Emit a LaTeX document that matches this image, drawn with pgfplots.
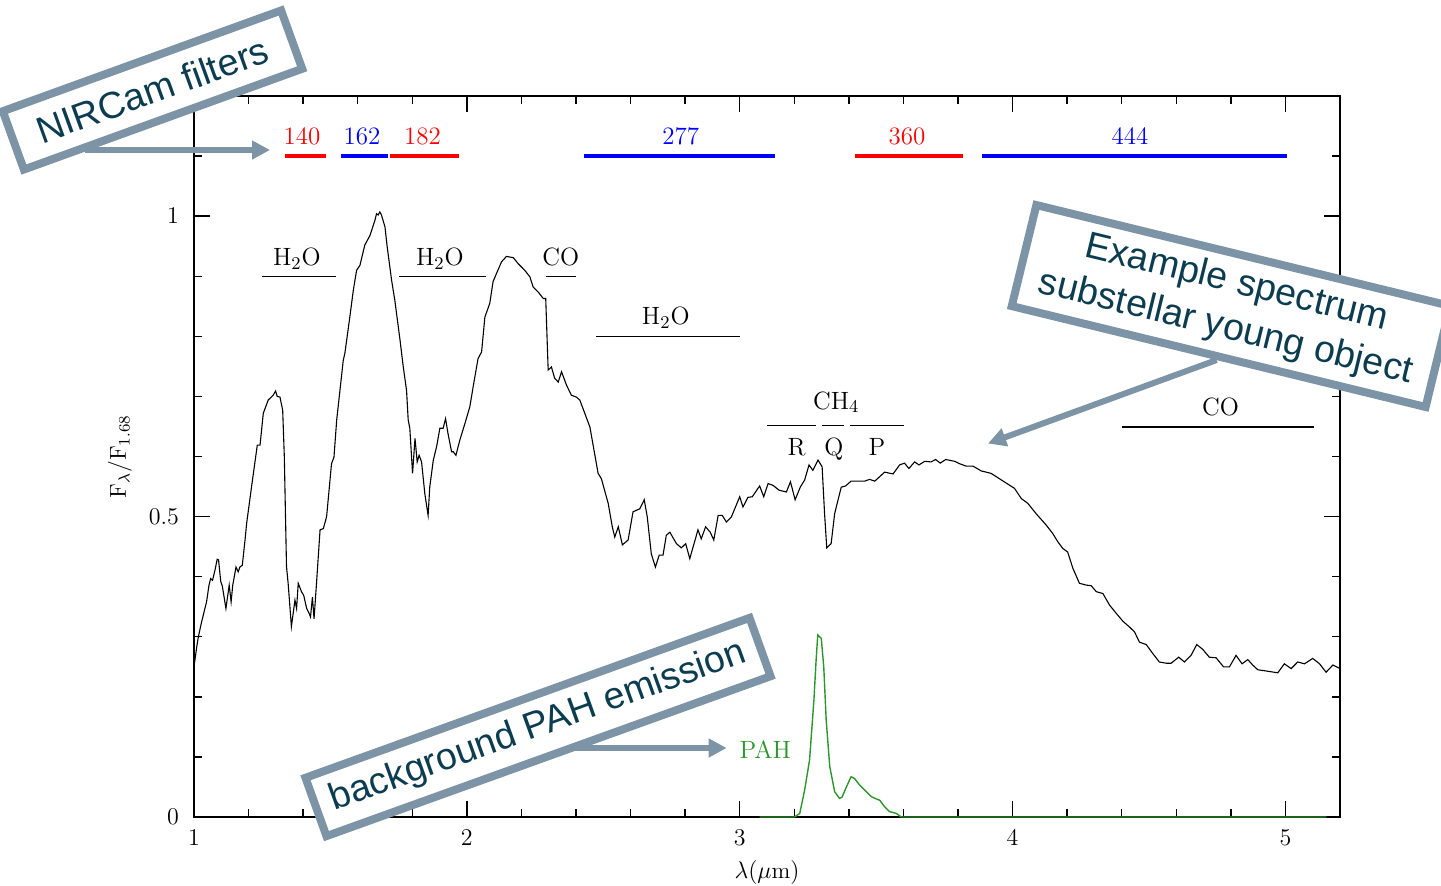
\documentclass[border=0pt]{standalone}
\usepackage{fontspec}
\usepackage{pgfplots}
\pgfplotsset{compat=1.18}
\usetikzlibrary{arrows.meta}
\newfontfamily\callfont{Liberation Sans}
\definecolor{boxc}{RGB}{125,148,166}
\definecolor{txtc}{RGB}{11,60,80}
\definecolor{pahg}{RGB}{44,150,44}
\definecolor{fred}{RGB}{255,0,0}
\definecolor{fblue}{RGB}{0,0,255}
\newcommand{\lab}{\fontsize{12.5}{14}\selectfont}
\newcommand{\callsize}{\callfont\fontsize{18.75}{23}\selectfont}

\pgfplotstableread{
x y
1.000 0.250
1.010 0.283
1.016 0.300
1.028 0.325
1.040 0.347
1.046 0.358
1.055 0.386
1.061 0.397
1.068 0.394
1.077 0.411
1.085 0.429
1.090 0.428
1.098 0.392
1.104 0.384
1.117 0.347
1.129 0.386
1.136 0.358
1.142 0.386
1.154 0.416
1.162 0.408
1.168 0.416
1.177 0.419
1.187 0.461
1.193 0.489
1.211 0.550
1.232 0.619
1.242 0.619
1.254 0.672
1.272 0.694
1.290 0.702
1.299 0.709
1.305 0.700
1.315 0.699
1.325 0.677
1.331 0.600
1.339 0.417
1.345 0.389
1.357 0.317
1.370 0.361
1.376 0.347
1.382 0.389
1.394 0.375
1.402 0.369
1.413 0.347
1.422 0.339
1.427 0.333
1.434 0.366
1.440 0.330
1.449 0.389
1.462 0.478
1.474 0.480
1.486 0.500
1.504 0.588
1.513 0.599
1.523 0.661
1.547 0.760
1.553 0.772
1.571 0.832
1.584 0.877
1.596 0.910
1.608 0.918
1.626 0.952
1.645 0.968
1.663 0.993
1.669 1.004
1.675 1.002
1.681 1.007
1.687 1.002
1.700 0.982
1.708 0.949
1.724 0.894
1.736 0.860
1.755 0.794
1.767 0.749
1.779 0.710
1.785 0.661
1.791 0.647
1.801 0.572
1.810 0.630
1.818 0.591
1.825 0.602
1.834 0.591
1.846 0.538
1.858 0.502
1.864 0.549
1.877 0.594
1.889 0.616
1.901 0.647
1.913 0.647
1.922 0.663
1.931 0.638
1.944 0.608
1.950 0.608
1.960 0.602
1.974 0.627
1.993 0.655
2.011 0.683
2.023 0.716
2.041 0.763
2.054 0.774
2.066 0.832
2.084 0.855
2.096 0.891
2.108 0.904
2.127 0.924
2.145 0.933
2.170 0.931
2.188 0.921
2.212 0.910
2.231 0.899
2.243 0.882
2.261 0.874
2.280 0.863
2.289 0.863
2.298 0.744
2.310 0.749
2.322 0.730
2.335 0.724
2.347 0.741
2.365 0.719
2.383 0.702
2.401 0.699
2.414 0.694
2.451 0.649
2.481 0.572
2.493 0.563
2.518 0.522
2.533 0.483
2.542 0.466
2.555 0.483
2.570 0.453
2.591 0.461
2.609 0.508
2.634 0.513
2.650 0.528
2.661 0.500
2.676 0.438
2.691 0.416
2.705 0.436
2.719 0.436
2.731 0.469
2.744 0.474
2.768 0.455
2.786 0.448
2.802 0.455
2.817 0.430
2.847 0.478
2.859 0.463
2.875 0.483
2.892 0.474
2.905 0.461
2.921 0.502
2.936 0.502
2.951 0.491
2.969 0.499
3.000 0.533
3.012 0.516
3.030 0.532
3.046 0.533
3.073 0.551
3.088 0.533
3.104 0.555
3.122 0.552
3.144 0.544
3.171 0.541
3.186 0.558
3.203 0.528
3.222 0.549
3.238 0.561
3.254 0.586
3.268 0.577
3.287 0.594
3.302 0.583
3.311 0.505
3.319 0.448
3.335 0.455
3.348 0.505
3.360 0.527
3.372 0.549
3.388 0.551
3.408 0.559
3.433 0.559
3.458 0.559
3.476 0.562
3.495 0.559
3.531 0.574
3.562 0.571
3.586 0.586
3.604 0.589
3.620 0.580
3.641 0.591
3.657 0.586
3.678 0.592
3.701 0.591
3.718 0.595
3.735 0.589
3.755 0.595
3.788 0.592
3.806 0.588
3.830 0.584
3.855 0.584
3.885 0.576
3.921 0.572
3.952 0.563
3.983 0.554
4.007 0.547
4.032 0.530
4.056 0.522
4.086 0.505
4.123 0.486
4.147 0.472
4.166 0.458
4.184 0.447
4.202 0.441
4.221 0.414
4.245 0.389
4.270 0.386
4.288 0.385
4.307 0.375
4.331 0.372
4.355 0.353
4.380 0.339
4.404 0.326
4.429 0.316
4.447 0.308
4.465 0.291
4.490 0.287
4.514 0.272
4.538 0.258
4.563 0.256
4.581 0.256
4.609 0.266
4.630 0.258
4.654 0.269
4.675 0.287
4.697 0.279
4.721 0.266
4.746 0.265
4.773 0.250
4.795 0.250
4.819 0.269
4.841 0.255
4.862 0.262
4.880 0.253
4.899 0.245
4.930 0.243
4.972 0.240
4.996 0.255
5.021 0.247
5.045 0.258
5.070 0.255
5.100 0.264
5.125 0.255
5.149 0.241
5.174 0.253
5.200 0.247
}\spectrum

\pgfplotstableread{
x y
3.073 0
3.201 0
3.220 0.006
3.238 0.045
3.256 0.095
3.272 0.195
3.280 0.261
3.286 0.303
3.293 0.300
3.299 0.297
3.308 0.250
3.317 0.161
3.330 0.084
3.348 0.042
3.366 0.031
3.375 0.033
3.391 0.050
3.408 0.067
3.421 0.064
3.440 0.053
3.458 0.045
3.482 0.034
3.501 0.030
3.513 0.028
3.531 0.017
3.549 0.009
3.574 0.006
3.592 0
5.150 0
}\pah

\begin{document}
\begin{tikzpicture}
\useasboundingbox (0,0) rectangle (720.5pt,-442.5pt);
\begin{axis}[
  at={(97pt,-408.5pt)}, anchor=south west,
  width=573pt, height=360.5pt, scale only axis,
  xmin=1, xmax=5.2, ymin=0, ymax=1.2,
  xtick={1,2,3,4,5}, ytick={0,0.5,1},
  minor xtick={1.2,1.4,1.6,1.8,2.2,2.4,2.6,2.8,3.2,3.4,3.6,3.8,4.2,4.4,4.6,4.8,5.0},
  minor ytick={0.1,0.2,0.3,0.4,0.6,0.7,0.8,0.9,1.1},
  tick align=inside,
  major tick length=8pt, minor tick length=4pt,
  axis line style={line width=0.7pt},
  every tick/.style={black, line width=0.7pt},
  tick label style={font=\fontsize{11.5}{13}\selectfont},
  yticklabel style={xshift=-4pt},
  xticklabel style={yshift=-3pt},
  xlabel={$\lambda(\mu\mathrm{m})$},
  ylabel={$\mathrm{F}_{\lambda}/\mathrm{F}_{1.68}$},
  xlabel style={at={(axis description cs:0.5,-0.0763)}, anchor=center, font=\fontsize{11.5}{13}\selectfont},
  ylabel style={at={(axis description cs:-0.0646,0.5)}, anchor=center, font=\fontsize{11.5}{13}\selectfont},
]
\addplot[black, line width=0.55pt] table[x=x,y=y] {\spectrum};
\addplot[pahg, line width=0.7pt] table[x=x,y=y] {\pah};

% filter bars
\addplot[fred, line width=1.6pt, forget plot] coordinates {(1.333,1.100) (1.483,1.100)};
\addplot[fblue, line width=1.6pt, forget plot] coordinates {(1.539,1.100) (1.712,1.100)};
\addplot[fred, line width=1.6pt, forget plot] coordinates {(1.720,1.100) (1.972,1.100)};
\addplot[fblue, line width=1.6pt, forget plot] coordinates {(2.430,1.100) (3.131,1.100)};
\addplot[fred, line width=1.6pt, forget plot] coordinates {(3.421,1.100) (3.818,1.100)};
\addplot[fblue, line width=1.6pt, forget plot] coordinates {(3.887,1.100) (5.006,1.100)};

% absorption bars
\addplot[black, line width=0.6pt, forget plot] coordinates {(1.249,0.900) (1.520,0.900)};
\addplot[black, line width=0.6pt, forget plot] coordinates {(1.751,0.900) (2.070,0.900)};
\addplot[black, line width=0.6pt, forget plot] coordinates {(2.289,0.900) (2.399,0.900)};
\addplot[black, line width=0.6pt, forget plot] coordinates {(2.473,0.800) (3.000,0.800)};
\addplot[black, line width=0.6pt, forget plot] coordinates {(3.101,0.651) (3.280,0.651)};
\addplot[black, line width=0.6pt, forget plot] coordinates {(3.303,0.651) (3.381,0.651)};
\addplot[black, line width=0.6pt, forget plot] coordinates {(3.405,0.651) (3.601,0.651)};
\addplot[black, line width=0.6pt, forget plot] coordinates {(4.402,0.649) (5.103,0.649)};

% filter labels
\node[font=\lab, text=fred, anchor=base] at (axis cs:1.396,1.120) {140};
\node[font=\lab, text=fblue, anchor=base] at (axis cs:1.616,1.120) {162};
\node[font=\lab, text=fred, anchor=base] at (axis cs:1.837,1.120) {182};
\node[font=\lab, text=fblue, anchor=base] at (axis cs:2.784,1.120) {277};
\node[font=\lab, text=fred, anchor=base] at (axis cs:3.613,1.120) {360};
\node[font=\lab, text=fblue, anchor=base] at (axis cs:4.430,1.120) {444};

% band labels
\node[font=\lab, anchor=base] at (axis cs:1.377,0.918) {H$_2$O};
\node[font=\lab, anchor=base] at (axis cs:1.901,0.918) {H$_2$O};
\node[font=\lab, anchor=base] at (axis cs:2.344,0.918) {CO};
\node[font=\lab, anchor=base] at (axis cs:2.729,0.819) {H$_2$O};
\node[font=\lab, anchor=base] at (axis cs:3.354,0.679) {CH$_4$};
\node[font=\lab, anchor=base] at (axis cs:3.209,0.602) {R};
\node[font=\lab, anchor=base] at (axis cs:3.345,0.602) {Q};
\node[font=\lab, anchor=base] at (axis cs:3.503,0.602) {P};
\node[font=\lab, anchor=base] at (axis cs:4.762,0.669) {CO};
\node[font=\lab, text=pahg, anchor=base] at (axis cs:3.094,0.098) {PAH};
\end{axis}

% callout arrows
\draw[boxc, line width=3pt, -{Triangle[length=9pt,width=9pt]}] (42.5pt,-75pt) -- (135pt,-75pt);
\draw[boxc, line width=3pt, -{Triangle[length=9pt,width=9pt]}] (608.3pt,-180pt) -- (494pt,-221.75pt);
\draw[boxc, line width=3pt, -{Triangle[length=9pt,width=9pt]}] (285.8pt,-374pt) -- (363.3pt,-374pt);

% callout boxes
\node[draw=boxc, line width=4pt, fill=white, text=txtc, font=\callsize,
      minimum width=148pt, minimum height=31pt, inner sep=0pt, rotate=19.9]
      at (76.25pt,-45pt) {NIRCam filters};
\node[draw=boxc, line width=4pt, fill=white, text=txtc, font=\callsize, align=center,
      minimum width=213pt, minimum height=52pt, inner sep=0pt, rotate=-13.7]
      at (615.5pt,-153pt) {Example spectrum\\substellar young object};
\node[draw=boxc, line width=4pt, fill=white, text=txtc, font=\callsize,
      minimum width=236pt, minimum height=31pt, inner sep=0pt, rotate=19.8]
      at (269pt,-363.5pt) {background PAH emission};
\end{tikzpicture}
\end{document}
